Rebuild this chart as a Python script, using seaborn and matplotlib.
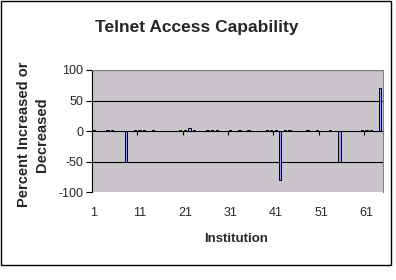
import matplotlib
matplotlib.use("Agg")
import matplotlib.pyplot as plt
import seaborn as sns
import pandas as pd
from matplotlib.patches import Rectangle

institutions = list(range(1, 65))
percent_change = [
    2, 0, 0, 2, 2, 0, 0, -50, 0, 2,
    2, 2, 0, 2, 0, 0, 0, 0, 0, 2,
    2, 5, 2, 0, 0, 2, 2, 2, 0, 0,
    2, 0, 2, 0, 2, 0, 0, 0, 2, 2,
    2, -80, 2, 2, 0, 0, 0, 2, 0, 2,
    0, 0, 2, 0, -50, 0, 0, 0, 0, 2,
    2, 2, 0, 70,
]
x_tick_labels = ["1", "11", "21", "31", "41", "51", "61"]
y_ticks = [-100, -50, 0, 50, 100]

df = pd.DataFrame({"Institution": [str(i) for i in institutions],
                   "Percent": percent_change})

sns.set_style("white")
plt.rcParams["font.family"] = ["Liberation Sans", "DejaVu Sans"]

fig = plt.figure(figsize=(3.96, 2.80), dpi=100)
ax = fig.add_axes([0.2316, 0.314, 0.7344, 0.436])

ax.set_facecolor("#C9C5CB")
sns.barplot(data=df, x="Institution", y="Percent", order=df["Institution"],
            color="#9999FF", saturation=1, edgecolor="black", linewidth=0.7,
            width=0.5, ax=ax)

n = len(institutions)
ax.set_xlim(-0.5, n - 0.5)
ax.set_ylim(-100, 100)

for yv in [50, -50, 100]:
    ax.axhline(yv, color="black", lw=0.8, zorder=0.5)

# spines
ax.spines["bottom"].set_position(("data", 0))
ax.spines["bottom"].set_color("black")
ax.spines["bottom"].set_linewidth(0.8)
ax.spines["bottom"].set_zorder(0.6)
ax.spines["left"].set_color("black")
ax.spines["left"].set_linewidth(0.8)
ax.spines["top"].set_color("#808080")
ax.spines["right"].set_color("#808080")

# category boundary tick marks on the zero axis
ax.set_xticks([i * 10 - 0.5 for i in range(1, 7)])
ax.set_xticklabels([])
ax.tick_params(axis="x", direction="out", length=3, width=0.8, color="black", bottom=True)

ax.set_yticks(y_ticks)
ax.set_yticklabels([str(v) for v in y_ticks], fontsize=9)
ax.tick_params(axis="y", direction="out", length=4, width=0.8, color="black", left=True, pad=2)

sec = ax.secondary_xaxis(0)
sec.set_xticks([i * 10 for i in range(len(x_tick_labels))])
sec.set_xticklabels(x_tick_labels, fontsize=9)
sec.tick_params(length=0, pad=11)
sec.spines["bottom"].set_visible(False)

ax.set_xlabel("")
ax.set_ylabel("")
fig.text(0.596, 0.145, "Institution", ha="center", va="center", fontsize=9.5, fontweight="bold")
fig.text(0.083, 0.52, "Percent Increased or\nDecreased", ha="center", va="center",
         rotation=90, fontsize=10.5, fontweight="bold", linespacing=1.3)
fig.text(0.497, 0.903, "Telnet Access Capability", ha="center", va="center",
         fontsize=12.5, fontweight="bold")

fig.patches.append(Rectangle((0.003, 1 - 265 / 280), 0.985, 264 / 280,
                             transform=fig.transFigure, fill=False,
                             edgecolor="black", lw=1))

fig.savefig("out.png", dpi=100)
